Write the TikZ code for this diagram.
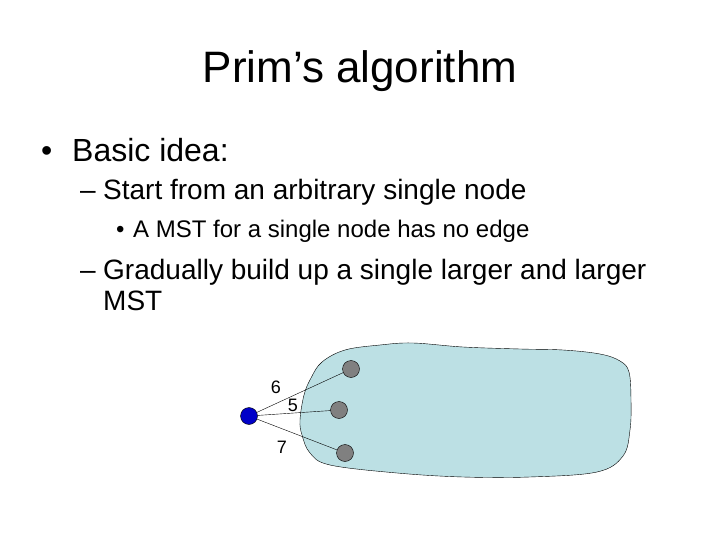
\documentclass[tikz,border=0pt]{standalone}
\usepackage{fontspec}
\setmainfont{Liberation Sans}
\usetikzlibrary{positioning}

\definecolor{blobblue}{RGB}{188,224,228}
\definecolor{startblue}{RGB}{0,0,200}
\definecolor{treegray}{RGB}{128,128,128}

\begin{document}
\begin{tikzpicture}[
    x=1pt, y=-1pt,
    title/.style={anchor=base, font=\fontsize{44}{52}\selectfont},
    lvlone/.style={anchor=base west, inner sep=0pt, font=\fontsize{32}{38}\selectfont},
    lvltwo/.style={anchor=base west, inner sep=0pt, font=\fontsize{28}{34}\selectfont},
    lvlthree/.style={anchor=base west, inner sep=0pt, font=\fontsize{24}{29}\selectfont},
    vertex/.style={circle, draw=black, inner sep=0pt, minimum size=17pt},
    weight/.style={font=\fontsize{18}{21}\selectfont, inner sep=1pt},
    edge/.style={draw=black, thin}
]
\useasboundingbox (0,0) rectangle (720,540);

% Title
\node[title] (head) at (360,83) {Prim’s algorithm};

% Bullet list
\node[lvlone] (m1) at (41,162) {•};
\node[lvlone] (b1) at (72,162) {Basic idea:};
\node[lvltwo] (m2) at (80,200) {–};
\node[lvltwo] (b2) at (103,200) {Start from an arbitrary single node};
\node[lvlthree] (m3) at (116,237) {•};
\node[lvlthree] (b3) at (133,237) {A MST for a single node has no edge};
\node[lvltwo] (m4) at (80,279) {–};
\node[lvltwo] (b4) at (103,279) {Gradually build up a single larger and larger};
\node[lvltwo] (b5) at (103,310) {MST};

% Current tree (blob)
\draw[fill=blobblue, draw=black, thin] plot[smooth cycle, tension=0.6] coordinates {
    (300,420) (304,395) (311,378) (322,362) (345,350) (380,345) (413,343)
    (463,347) (520,349) (563,350) (600,354) (620,361) (629,372) (631,400)
    (630,430) (623,456) (597,472) (530,477) (463,477) (397,473) (330,465)
    (310,453) (302,435)};

% Vertices
\node[vertex, fill=startblue] (s) at (249,416) {};
\node[vertex, fill=treegray] (t1) at (351,369) {};
\node[vertex, fill=treegray] (t2) at (339,410) {};
\node[vertex, fill=treegray] (t3) at (345,453) {};

% Candidate edges
\draw[edge] (s) -- (t1);
\draw[edge] (s) -- (t2);
\draw[edge] (s) -- (t3);

% Weights
\node[weight] (w6) at (276,387) {6};
\node[weight] (w5) at (293,405) {5};
\node[weight] (w7) at (282,447) {7};

\end{tikzpicture}
\end{document}
